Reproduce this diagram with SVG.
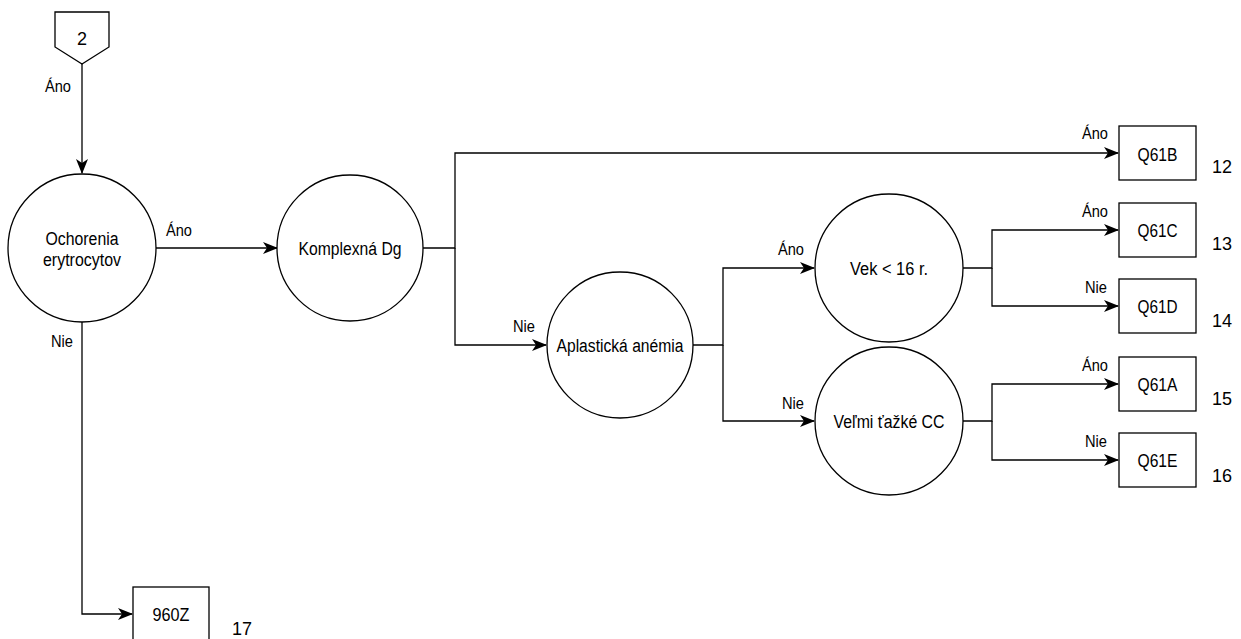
<svg xmlns="http://www.w3.org/2000/svg" width="1241" height="639" viewBox="0 0 1241 639">
<style>
.s{fill:#fff;stroke:#000;stroke-width:1.3}
.c{fill:none;stroke:#000;stroke-width:1.3}
text{font-family:"Liberation Sans",Arial,sans-serif;fill:#000}
.n{font-size:18px;text-anchor:middle}
.l{font-size:17px;text-anchor:middle}
.k{font-size:18px;text-anchor:middle}
</style>
<defs>
<marker id="a" viewBox="0 0 15 12" refX="14" refY="6" markerWidth="15" markerHeight="12" markerUnits="userSpaceOnUse" orient="auto">
<path d="M0,0 L15,6 L0,12 L4,6 z" fill="#000"/>
</marker>
</defs>
<rect width="1241" height="639" fill="#fff"/>
<g id="connectors">
<path class="c" d="M82,64 V173" marker-end="url(#a)"/>
<path class="c" d="M156,248 H277" marker-end="url(#a)"/>
<path class="c" d="M423,248 H455 V153 H1118" marker-end="url(#a)"/>
<path class="c" d="M455,248 V345 H546" marker-end="url(#a)"/>
<path class="c" d="M693,345 H723 V268 H814" marker-end="url(#a)"/>
<path class="c" d="M723,345 V421 H814" marker-end="url(#a)"/>
<path class="c" d="M963,268 H992 V230 H1118" marker-end="url(#a)"/>
<path class="c" d="M992,268 V306 H1118" marker-end="url(#a)"/>
<path class="c" d="M963,421 H992 V384 H1118" marker-end="url(#a)"/>
<path class="c" d="M992,421 V460 H1118" marker-end="url(#a)"/>
<path class="c" d="M82,322 V614 H132" marker-end="url(#a)"/>
<text class="l" x="58" y="92" textLength="26" lengthAdjust="spacingAndGlyphs">Áno</text>
<text class="l" x="179" y="236" textLength="26" lengthAdjust="spacingAndGlyphs">Áno</text>
<text class="l" x="62" y="347" textLength="22" lengthAdjust="spacingAndGlyphs">Nie</text>
<text class="l" x="524" y="332" textLength="22" lengthAdjust="spacingAndGlyphs">Nie</text>
<text class="l" x="791" y="255" textLength="26" lengthAdjust="spacingAndGlyphs">Áno</text>
<text class="l" x="793" y="409" textLength="22" lengthAdjust="spacingAndGlyphs">Nie</text>
<text class="l" x="1095" y="139" textLength="26" lengthAdjust="spacingAndGlyphs">Áno</text>
<text class="l" x="1095" y="217" textLength="26" lengthAdjust="spacingAndGlyphs">Áno</text>
<text class="l" x="1096" y="293" textLength="22" lengthAdjust="spacingAndGlyphs">Nie</text>
<text class="l" x="1095" y="371" textLength="26" lengthAdjust="spacingAndGlyphs">Áno</text>
<text class="l" x="1096" y="447" textLength="22" lengthAdjust="spacingAndGlyphs">Nie</text>
</g>
<g id="n2">
<path class="s" d="M55,12 H109 V47 L82,64 L55,47 Z"/>
<text class="n" x="82" y="45">2</text>
</g>
<g id="ochorenia">
<circle class="s" cx="82" cy="248" r="74"/>
<text class="n" x="82" y="245" textLength="73" lengthAdjust="spacingAndGlyphs">Ochorenia</text>
<text class="n" x="82" y="266" textLength="78" lengthAdjust="spacingAndGlyphs">erytrocytov</text>
</g>
<g id="komplexna">
<circle class="s" cx="350" cy="248" r="73"/>
<text class="n" x="350" y="255" textLength="103" lengthAdjust="spacingAndGlyphs">Komplexná Dg</text>
</g>
<g id="aplasticka">
<circle class="s" cx="620" cy="345" r="73"/>
<text class="n" x="620" y="352" textLength="127" lengthAdjust="spacingAndGlyphs">Aplastická anémia</text>
</g>
<g id="vek">
<circle class="s" cx="889" cy="268" r="74"/>
<text class="n" x="889" y="275" textLength="78" lengthAdjust="spacingAndGlyphs">Vek &lt; 16 r.</text>
</g>
<g id="velmi">
<circle class="s" cx="889" cy="421" r="74"/>
<text class="n" x="889" y="428" textLength="111" lengthAdjust="spacingAndGlyphs">Veľmi ťažké CC</text>
</g>
<g id="q61b">
<rect class="s" x="1119" y="126" width="77" height="54"/>
<text class="n" x="1157.5" y="161" textLength="40" lengthAdjust="spacingAndGlyphs">Q61B</text>
<text class="k" x="1222" y="173">12</text>
</g>
<g id="q61c">
<rect class="s" x="1119" y="203" width="77" height="54"/>
<text class="n" x="1157.5" y="237" textLength="40" lengthAdjust="spacingAndGlyphs">Q61C</text>
<text class="k" x="1222" y="250">13</text>
</g>
<g id="q61d">
<rect class="s" x="1119" y="279" width="77" height="54"/>
<text class="n" x="1157.5" y="313" textLength="40" lengthAdjust="spacingAndGlyphs">Q61D</text>
<text class="k" x="1222" y="327">14</text>
</g>
<g id="q61a">
<rect class="s" x="1119" y="357" width="77" height="54"/>
<text class="n" x="1157.5" y="391" textLength="40" lengthAdjust="spacingAndGlyphs">Q61A</text>
<text class="k" x="1222" y="405">15</text>
</g>
<g id="q61e">
<rect class="s" x="1119" y="433" width="77" height="54"/>
<text class="n" x="1157.5" y="467" textLength="40" lengthAdjust="spacingAndGlyphs">Q61E</text>
<text class="k" x="1222" y="482">16</text>
</g>
<g id="z960">
<rect class="s" x="133" y="587" width="76" height="54"/>
<text class="n" x="171" y="621" textLength="37" lengthAdjust="spacingAndGlyphs">960Z</text>
<text class="k" x="242" y="635">17</text>
</g>
</svg>
